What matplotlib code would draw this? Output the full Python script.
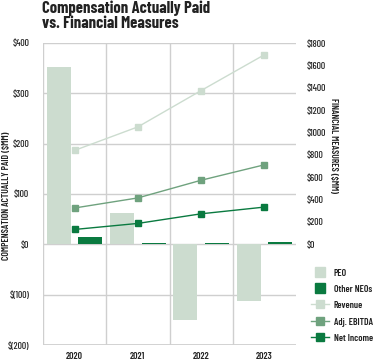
import matplotlib
matplotlib.use("Agg")
import matplotlib.pyplot as plt
from matplotlib.lines import Line2D

years = ["2020", "2021", "2022", "2023"]
peo = [353, 62, -150, -112]
other_neos = [15, 3, 2, 5]
revenue = [840, 1050, 1375, 1695]
adj_ebitda = [325, 415, 573, 711]
net_income = [133, 187, 273, 333]

C_LIGHT = "#ccdccf"
C_MID = "#6fa27e"
C_DARK = "#0a7a40"
GRID = "#cfcfcf"
TXT = "#222222"

FN = ["Barlow Condensed", "DejaVu Sans"]
plt.rcParams["font.family"] = FN
plt.rcParams["font.weight"] = 500

fig = plt.figure(figsize=(3.74, 3.61), dpi=100)
ax = fig.add_axes([43/374, 1-345/361, (296-43)/374, (345-43)/361])
ax2 = ax.twinx()

x = list(range(len(years)))
ax.bar([i - 0.25 for i in x], peo, width=0.38, color=C_LIGHT, zorder=2)
ax.bar([i + 0.25 for i in x], other_neos, width=0.38, color=C_DARK, zorder=2)

ax2.plot(x, revenue, color=C_LIGHT, lw=1, marker="s", ms=4.5, zorder=3)
ax2.plot(x, adj_ebitda, color=C_MID, lw=1, marker="s", ms=4.5, zorder=3)
ax2.plot(x, net_income, color=C_DARK, lw=1, marker="s", ms=4.5, zorder=3)

ax.set_xlim(-0.5, 3.5)
ax.set_ylim(-200, 400)
ax2.set_ylim(-900, 1800)
ax.set_yticks([-200, -100, 0, 100, 200, 300, 400])
ax.set_yticklabels(["$(200)", "$(100)", "$0", "$100", "$200", "$300", "$400"])
ax2.set_yticks(range(0, 1801, 200))
ax2.set_yticklabels([f"${v}" for v in range(0, 1801, 200)])
ax.set_xticks(x)
ax.set_xticklabels(years, fontweight=600)

for a in (ax, ax2):
    a.tick_params(length=0, labelsize=7, colors=TXT)
    for s in a.spines.values():
        s.set_visible(False)
ax.tick_params(axis="y", pad=10)
ax2.tick_params(axis="y", pad=8)
ax.tick_params(axis="x", pad=5)

for v in [-100, 0, 100, 200, 300, 400]:
    ax.axhline(v, color=GRID, lw=1, zorder=1)
for xv in [-0.5, 0.5, 1.5, 2.5]:
    ax.axvline(xv, color=GRID, lw=1, zorder=1)
ax.axhline(-200, color=GRID, lw=1.3, zorder=1)

fig.text(7/374, 1-196/361, "COMPENSATION ACTUALLY PAID ($MM)", rotation=90,
         ha="center", va="center", fontsize=7, fontweight=600, color=TXT)
fig.text(334/374, 1-145/361, "FINANCIAL MEASURES ($MM)", rotation=-90,
         ha="center", va="center", fontsize=7, fontweight=600, color=TXT)

fig.text(42/374, 1-0/361, "Compensation Actually Paid\nvs. Financial Measures",
         ha="left", va="top", fontsize=12, fontweight=700, color=TXT,
         linespacing=1.05)

handles = [
    Line2D([], [], ls="none", color=C_LIGHT, marker="s", ms=7, label="PEO"),
    Line2D([], [], ls="none", color=C_DARK, marker="s", ms=7, label="Other NEOs"),
    Line2D([], [], color=C_LIGHT, lw=1, marker="s", ms=6, label="Revenue"),
    Line2D([], [], color=C_MID, lw=1, marker="s", ms=6, label="Adj. EBITDA"),
    Line2D([], [], color=C_DARK, lw=1, marker="s", ms=6, label="Net Income"),
]
fig.legend(handles=handles, loc="upper left", bbox_to_anchor=(311/374, 1-268/361),
           frameon=False, handlelength=1.9, handleheight=1.0,
           labelspacing=0.68, handletextpad=0.45, borderpad=0, borderaxespad=0,
           labelcolor=TXT, prop={"weight": 600, "size": 7})

fig.savefig("out.png", dpi=100)
